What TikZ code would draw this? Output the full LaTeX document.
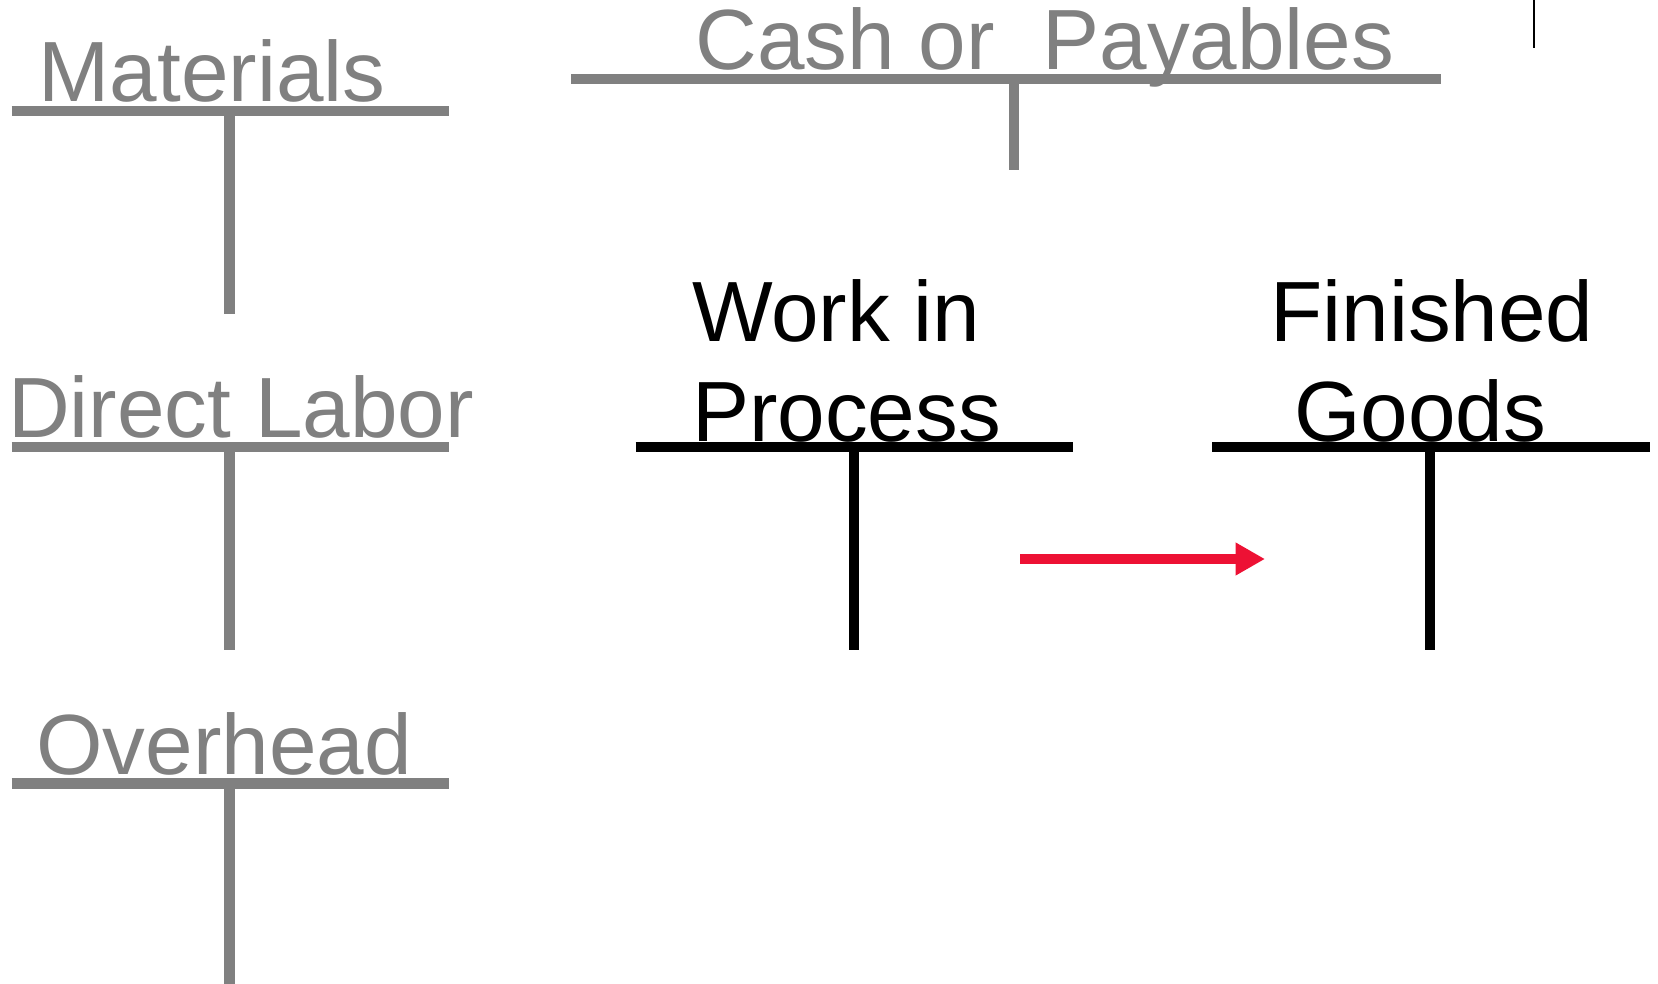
\documentclass[tikz,border=0pt]{standalone}
\usepackage{fontspec}
\setmainfont{Liberation Sans}
\usetikzlibrary{arrows.meta}
\definecolor{acctgray}{RGB}{128,128,128}
\definecolor{flowred}{RGB}{237,17,52}
\tikzset{
  ledger/.style={line width=10.5pt, line cap=butt},
  faded/.style={ledger, draw=acctgray},
  active/.style={ledger, draw=black},
  title/.style={inner sep=0pt, anchor=base, font=\fontsize{85.5}{100}\selectfont},
  fadedtitle/.style={title, text=acctgray},
  activetitle/.style={title, text=black},
  flow/.style={draw=flowred, line width=10pt, -{Triangle[length=29.5pt,width=31pt]}}
}
\begin{document}
\begin{tikzpicture}[x=1pt,y=-1pt]
\useasboundingbox (0,0) rectangle (1658,984);

% T-account frames: bar ends and stem bottoms
\coordinate (matL) at (11.6,111);   \coordinate (matR) at (449.4,111);
\coordinate (matT) at (229.5,111);  \coordinate (matB) at (229.5,314);
\coordinate (cashL) at (571,79);    \coordinate (cashR) at (1441,79);
\coordinate (cashT) at (1014,79);   \coordinate (cashB) at (1014,170);
\coordinate (labL) at (11.6,447);   \coordinate (labR) at (449.4,447);
\coordinate (labT) at (229.5,447);  \coordinate (labB) at (229.5,650);
\coordinate (ohL) at (11.6,783.5);  \coordinate (ohR) at (449.4,783.5);
\coordinate (ohT) at (229.5,783.5); \coordinate (ohB) at (229.5,984);
\coordinate (wipL) at (635.5,447);  \coordinate (wipR) at (1073,447);
\coordinate (wipT) at (854,447);    \coordinate (wipB) at (854,650);
\coordinate (fgL) at (1212,447);    \coordinate (fgR) at (1649.5,447);
\coordinate (fgT) at (1430,447);    \coordinate (fgB) at (1430,650);

\draw[faded] (matL) -- (matR);   \draw[faded] (matT) -- (matB);
\draw[faded] (cashL) -- (cashR); \draw[faded] (cashT) -- (cashB);
\draw[faded] (labL) -- (labR);   \draw[faded] (labT) -- (labB);
\draw[faded] (ohL) -- (ohR);     \draw[faded] (ohT) -- (ohB);
\draw[active] (wipL) -- (wipR);  \draw[active] (wipT) -- (wipB);
\draw[active] (fgL) -- (fgR);    \draw[active] (fgT) -- (fgB);

% thin mark at the top edge
\coordinate (markT) at (1534,0);
\coordinate (markB) at (1534,48);
\draw[line width=2pt] (markT) -- (markB);

% account titles
\node[fadedtitle] (mattitle) at (212,102) {Materials};
\node[fadedtitle] (cashtitle) at (1045,70) {Cash or\ \ Payables};
\node[fadedtitle] (labtitle) at (241,437.5) {Direct Labor};
\node[fadedtitle] (ohtitle) at (224,774) {Overhead};
\node[activetitle, anchor=base west] (wiptitleA) at (692,341.5) {Work in};
\node[activetitle, anchor=base west] (wiptitleB) at (692,441.5) {Process};
\node[activetitle] (fgtitleA) at (1432,341.5) {Finished};
\node[activetitle] (fgtitleB) at (1420,441.5) {Goods};

% transfer of completed goods
\coordinate (flowS) at (1020,559);
\coordinate (flowE) at (1265,559);
\draw[flow] (flowS) -- (flowE);
\end{tikzpicture}
\end{document}
